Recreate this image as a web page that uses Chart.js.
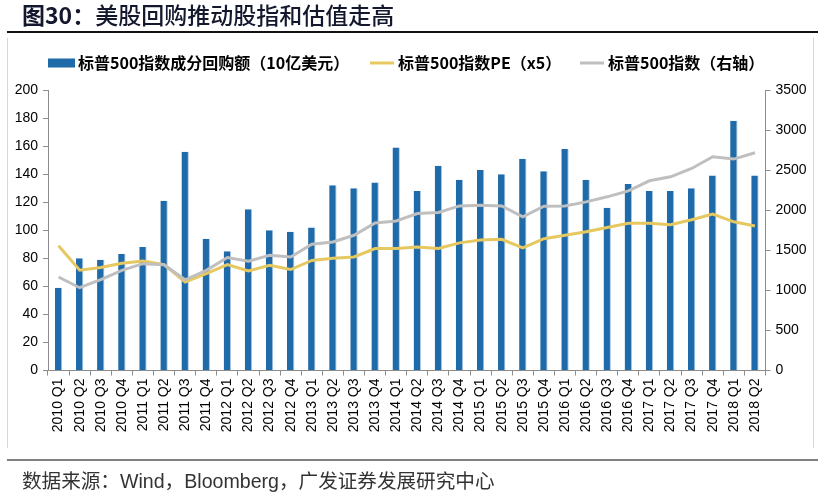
<!DOCTYPE html>
<html>
<head>
<meta charset="utf-8">
<script src="https://cdn.jsdelivr.net/npm/chart.js@4.4.1/dist/chart.umd.min.js"></script>
<style>
  body { margin: 0; background: #fff; }
  #wrap { position: relative; width: 823px; height: 493px; overflow: hidden; }
  #wrap canvas { position: absolute; left: 0; top: 0; }
  .title { position: absolute; left: 22px; top: -1px; font: 500 23px "Noto Sans CJK SC", sans-serif; color: #14182e; white-space: nowrap; line-height: 30px; }
  .title b { font-weight: bold; }
  .rule1 { position: absolute; left: 7px; top: 31px; width: 811px; height: 2px; background: #111; }
  .side { position: absolute; top: 38px; width: 1px; height: 410px; background: #d9d9d9; }
  .rule2 { position: absolute; left: 7px; top: 459px; width: 811px; height: 2px; background: #808080; }
  .foot { position: absolute; left: 22px; top: 468px; font: 19.6px "Liberation Sans", Arial, "Noto Sans CJK SC", sans-serif; color: #333; white-space: nowrap; line-height: 26px; }
</style>
</head>
<body>
<div id="wrap">
  <canvas id="buybackChart"></canvas>
  <div class="title"><b>图30：</b>美股回购推动股指和估值走高</div>
  <div class="rule1"></div>
  <div class="side" style="left:7px"></div>
  <div class="side" style="left:813px"></div>
  <div class="rule2"></div>
  <div class="foot">数据来源：Wind，Bloomberg，广发证券发展研究中心</div>
</div>
<script>
const quarters = ["2010 Q1","2010 Q2","2010 Q3","2010 Q4","2011 Q1","2011 Q2","2011 Q3","2011 Q4",
  "2012 Q1","2012 Q2","2012 Q3","2012 Q4","2013 Q1","2013 Q2","2013 Q3","2013 Q4",
  "2014 Q1","2014 Q2","2014 Q3","2014 Q4","2015 Q1","2015 Q2","2015 Q3","2015 Q4",
  "2016 Q1","2016 Q2","2016 Q3","2016 Q4","2017 Q1","2017 Q2","2017 Q3","2017 Q4",
  "2018 Q1","2018 Q2"]
// 回购额 (10亿美元)
const buyback = [59, 80, 79, 83, 88, 121, 156, 94, 85, 115, 100, 99, 102, 132, 130, 134,
  159, 128, 146, 136, 143, 140, 151, 142, 158, 136, 116, 133, 128, 128, 130, 139, 178, 139]
// PE x5, left axis
const peX5 = [89, 71.5, 73.5, 76.5, 78, 75.5, 63, 69, 75.5, 71, 75, 72, 78.5, 80, 81, 87,
  87, 88, 87, 91, 93, 93.5, 87.5, 94, 96.5, 99, 102, 105, 105, 104, 107.5, 111.5, 106, 103]
// S&P 500 index, right axis
const sp500 = [1167, 1033, 1134, 1250, 1333, 1320, 1132, 1250, 1409, 1363, 1437, 1417, 1575, 1604, 1687, 1841,
  1866, 1958, 1971, 2054, 2063, 2054, 1917, 2050, 2054, 2104, 2167, 2242, 2367, 2417, 2521, 2667, 2638, 2717]

const axisGray = '#8c8c8c'
const tickFont = { family: 'Liberation Sans, Arial, sans-serif', size: 14 }

// legend drawn at fixed spots, like the source
const fixedLegend = {
  id: 'fixedLegend',
  afterDraw(chart) {
    const { ctx } = chart
    const ds = chart.data.datasets
    const y = 63
    ctx.save()
    ctx.font = 'bold 16px "Noto Sans CJK SC", sans-serif'
    ctx.textBaseline = 'middle'
    // bar entry
    ctx.fillStyle = ds[0].backgroundColor
    ctx.fillRect(48, y - 4.5, 27, 9)
    ctx.fillStyle = '#000'
    ctx.fillText(ds[0].label, 78, y)
    // lines
    const spots = [[1, 370, 398], [2, 580, 608]]
    spots.forEach(([i, x0, tx]) => {
      ctx.strokeStyle = ds[i].borderColor
      ctx.lineWidth = 3
      ctx.beginPath()
      ctx.moveTo(x0, y)
      ctx.lineTo(x0 + 24, y)
      ctx.stroke()
      ctx.fillText(ds[i].label, tx, y)
    })
    ctx.restore()
  }
}

const chart = new Chart(document.getElementById('buybackChart'), {
  type: 'bar',
  data: {
    labels: quarters,
    datasets: [
      {
        label: '标普500指数成分回购额（10亿美元）',
        data: buyback,
        backgroundColor: '#1f6aa8',
        borderColor: '#a9c8e6',
        borderWidth: { right: 1, left: 0, top: 0, bottom: 0 },
        borderSkipped: false,
        categoryPercentage: 1,
        barPercentage: 0.35,
        yAxisID: 'y',
        order: 3
      },
      {
        type: 'line',
        label: '标普500指数PE（x5）',
        data: peX5,
        borderColor: '#e6c860',
        borderWidth: 3,
        pointRadius: 0,
        tension: 0,
        yAxisID: 'y',
        order: 2
      },
      {
        type: 'line',
        label: '标普500指数（右轴）',
        data: sp500,
        borderColor: '#bfbfbf',
        borderWidth: 3,
        pointRadius: 0,
        tension: 0,
        yAxisID: 'y1',
        order: 1
      }
    ]
  },
  options: {
    responsive: true,
    maintainAspectRatio: false,
    animation: false,
    layout: { padding: { top: 90, left: 0, right: 0, bottom: 0 } },
    plugins: {
      legend: { display: false },
      tooltip: { enabled: false }
    },
    scales: {
      x: {
        grid: { offset: true, drawOnChartArea: false, color: axisGray, tickLength: 5 },
        border: { color: axisGray },
        ticks: { minRotation: 90, maxRotation: 90, autoSkip: false, padding: 3, color: '#000', font: tickFont },
        afterFit(scale) { scale.height = 122.5 }
      },
      y: {
        position: 'left',
        min: 0,
        max: 200,
        ticks: { stepSize: 20, padding: 5, color: '#000', font: tickFont },
        grid: { drawOnChartArea: false, color: axisGray, tickLength: 5 },
        border: { color: axisGray },
        afterFit(scale) { scale.width = 48 }
      },
      y1: {
        position: 'right',
        min: 0,
        max: 3500,
        ticks: {
          stepSize: 500, padding: 5, color: '#000', font: tickFont,
          callback: function(value) { return String(value) }
        },
        grid: { drawOnChartArea: false, color: axisGray, tickLength: 5 },
        border: { color: axisGray },
        afterFit(scale) { scale.width = 57.5 }
      }
    }
  },
  plugins: [fixedLegend]
})
</script>
</body>
</html>
